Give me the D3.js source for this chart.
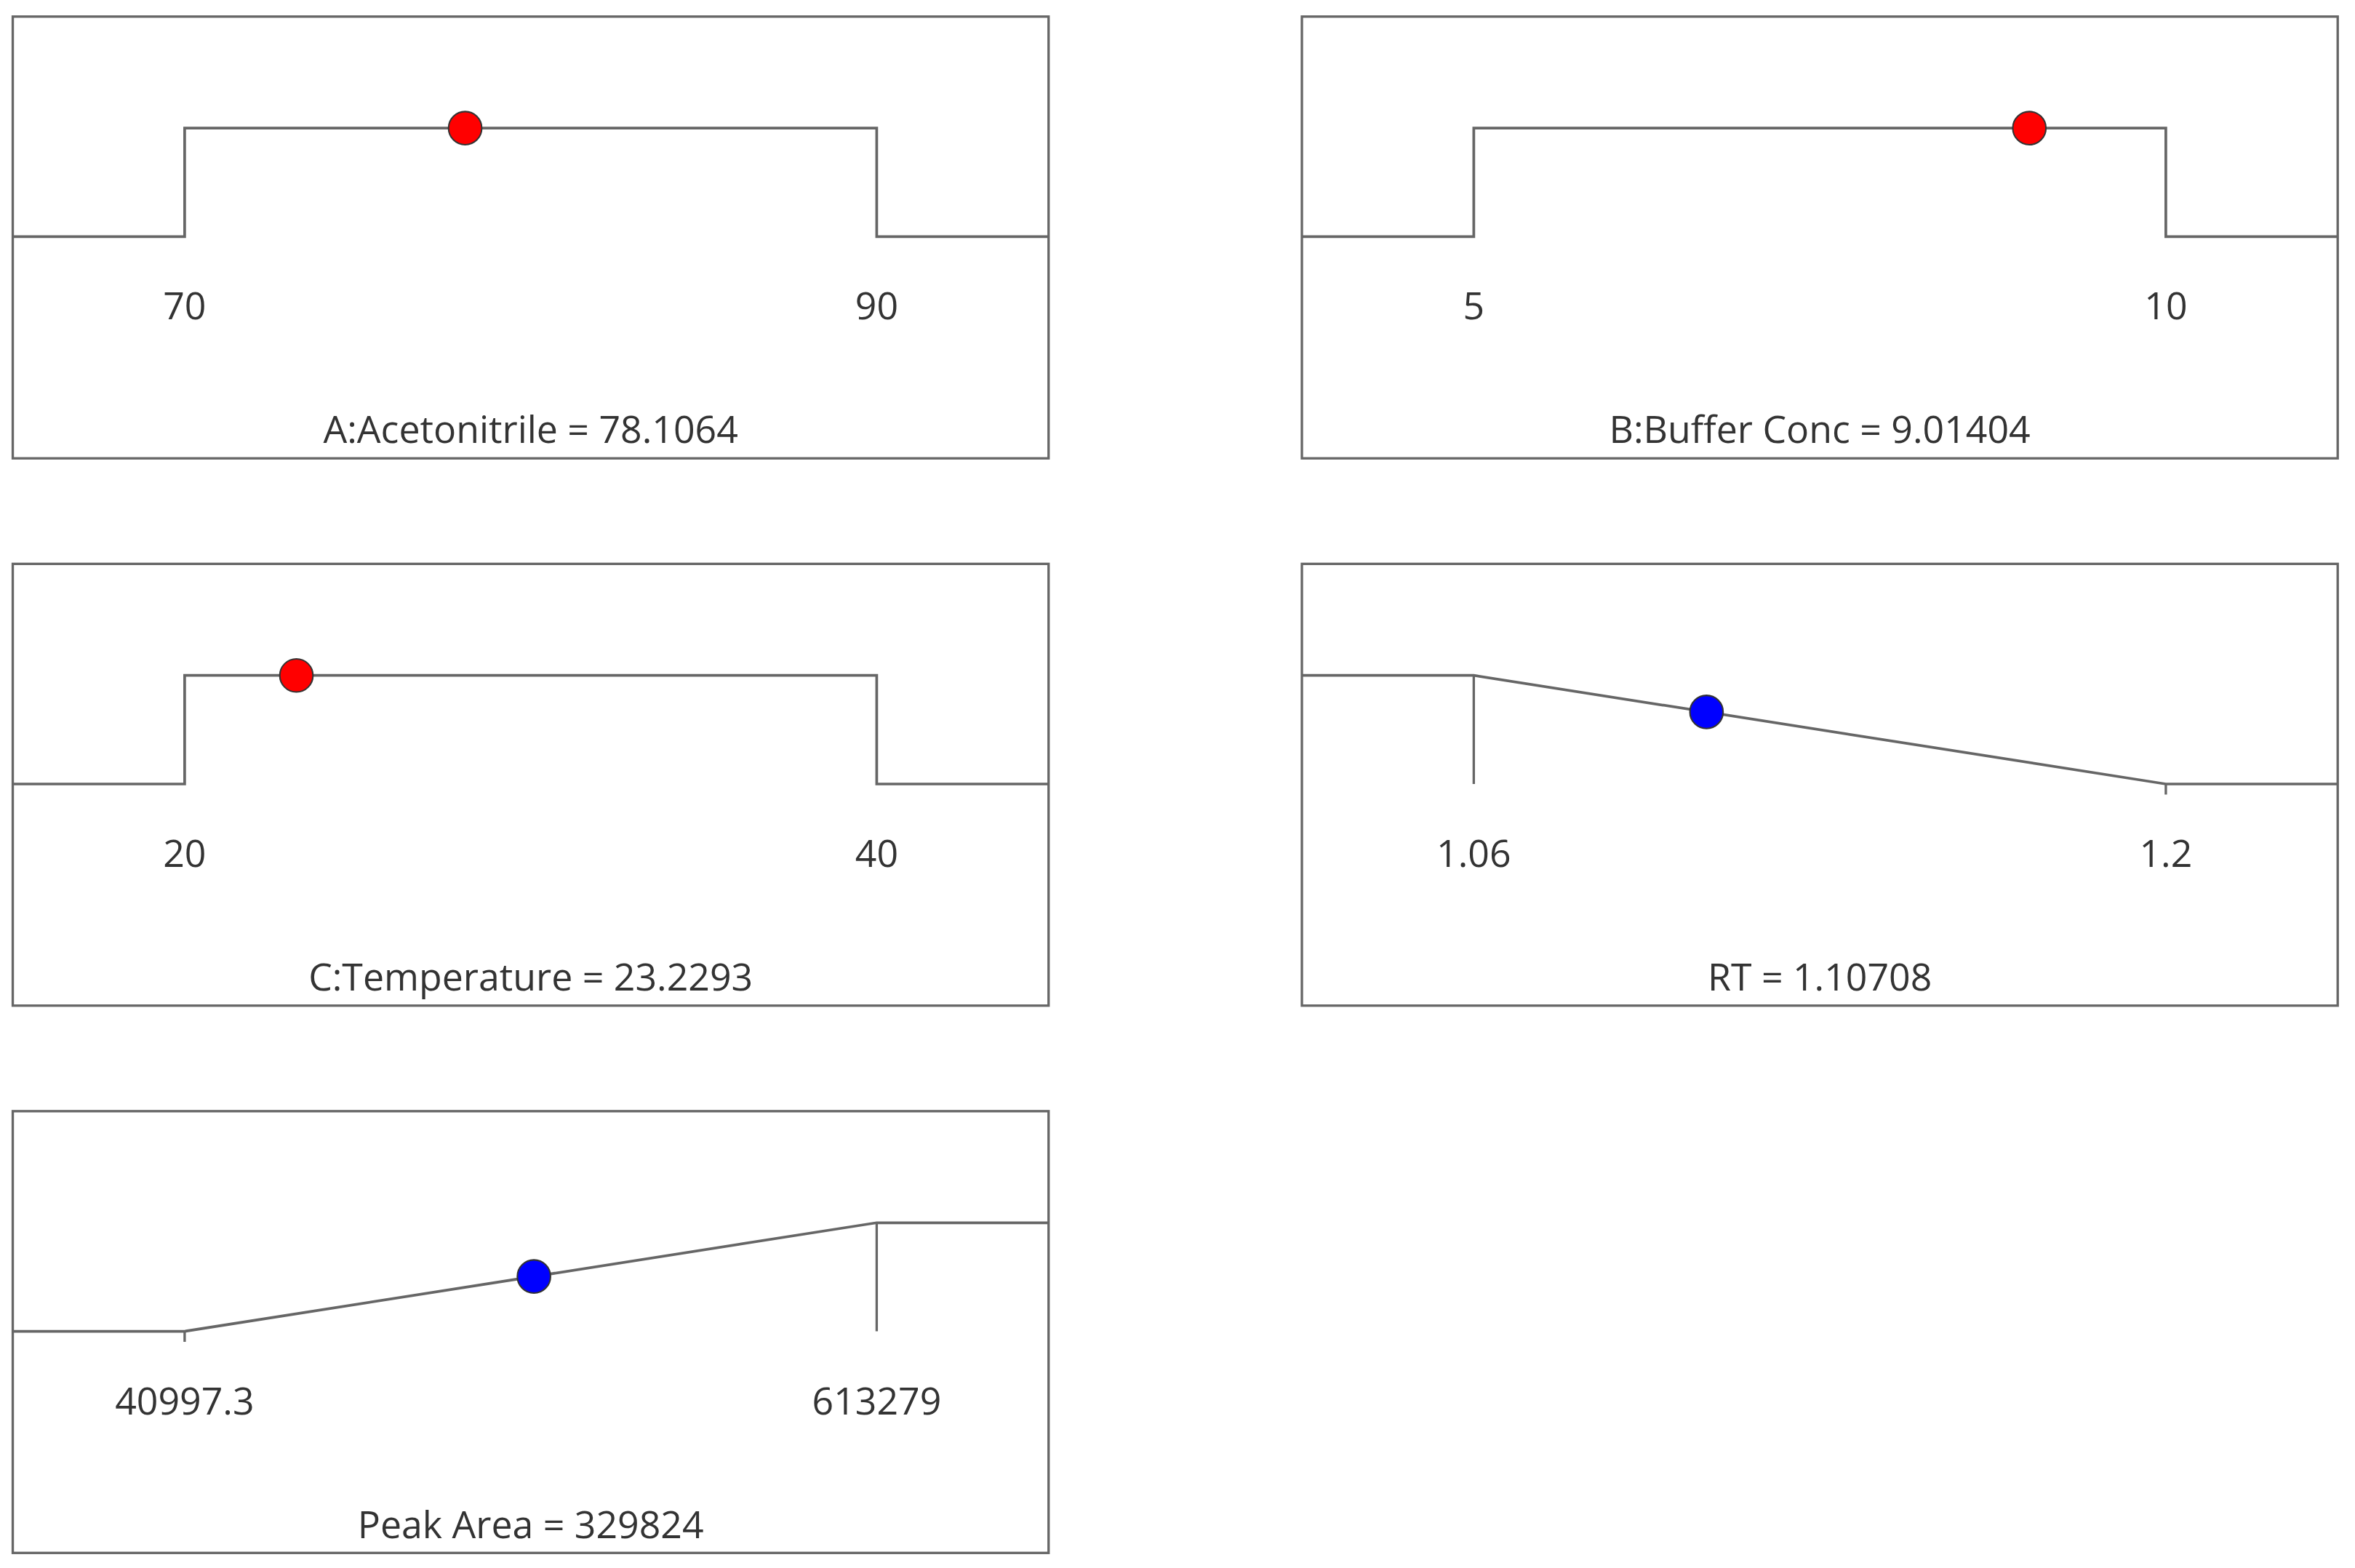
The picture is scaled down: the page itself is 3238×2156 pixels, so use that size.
<!DOCTYPE html>
<html><head><meta charset="utf-8">
<script src="https://cdn.jsdelivr.net/npm/d3@7"></script>
<style>body{margin:0;background:#fff}</style>
</head><body>
<script>
// panels: factor ranges and the optimum point
var names = ["A:Acetonitrile", "B:Buffer Conc", "C:Temperature", "RT", "Peak Area"];
var lows = [70, 5, 20, 1.06, 40997.3];
var highs = [90, 10, 40, 1.2, 613279];
var lowLabels = ["70", "5", "20", "1.06", "40997.3"];
var highLabels = ["90", "10", "40", "1.2", "613279"];
var values = [78.1064, 9.01404, 23.2293, 1.10708, 329824];
var labels = ["78.1064", "9.01404", "23.2293", "1.10708", "329824"];
var goals = ["range", "range", "range", "min", "max"];
var colors = ["#ff0000", "#ff0000", "#ff0000", "#0000ff", "#0000ff"];

var W = 1559, H = 1040;
var svg = d3.select("body").append("svg")
  .attr("width", 3238).attr("height", 2156)
  .attr("viewBox", "0 0 " + W + " " + H);

var pw = 687, ph = 293;
var lefts = [7, 862], tops = [11, 374, 737];
var font = "'Open Sans', 'Noto Sans', sans-serif";

names.forEach(function(name, i){
  var g = svg.append("g")
    .attr("transform", "translate(" + lefts[i % 2] + "," + tops[Math.floor(i / 2)] + ")");
  g.append("rect").attr("width", pw).attr("height", ph)
    .attr("fill", "none").attr("stroke", "#666").attr("stroke-width", 1.6);

  var x = d3.scaleLinear().domain([lows[i], highs[i]]).range([114, 573]);
  var y = d3.scaleLinear().domain([0, 1]).range([146, 74]);
  var x0 = x(lows[i]), x1 = x(highs[i]);
  var pts, d;
  if (goals[i] == "range") {
    pts = [[0, y(0)], [x0, y(0)], [x0, y(1)], [x1, y(1)], [x1, y(0)], [pw, y(0)]];
    d = 1;
  } else if (goals[i] == "min") {
    pts = [[0, y(1)], [x0, y(1)], [x1, y(0)], [pw, y(0)]];
    d = (highs[i] - values[i]) / (highs[i] - lows[i]);
    g.append("line").attr("x1", x0).attr("x2", x0).attr("y1", y(1)).attr("y2", y(0))
      .attr("stroke", "#666").attr("stroke-width", 1.6);
    g.append("line").attr("x1", x1).attr("x2", x1).attr("y1", y(0)).attr("y2", y(0) + 7)
      .attr("stroke", "#666").attr("stroke-width", 1.6);
  } else {
    pts = [[0, y(0)], [x0, y(0)], [x1, y(1)], [pw, y(1)]];
    d = (values[i] - lows[i]) / (highs[i] - lows[i]);
    g.append("line").attr("x1", x1).attr("x2", x1).attr("y1", y(1)).attr("y2", y(0))
      .attr("stroke", "#666").attr("stroke-width", 1.6);
    g.append("line").attr("x1", x0).attr("x2", x0).attr("y1", y(0)).attr("y2", y(0) + 7)
      .attr("stroke", "#666").attr("stroke-width", 1.6);
  }
  g.append("path").attr("d", d3.line()(pts))
    .attr("fill", "none").attr("stroke", "#666").attr("stroke-width", 1.8);

  g.append("circle").attr("cx", x(values[i])).attr("cy", y(d)).attr("r", 11)
    .attr("fill", colors[i]).attr("stroke", "#333").attr("stroke-width", 1);

  g.selectAll("text.tick").data([[x0, lowLabels[i]], [x1, highLabels[i]]]).enter()
    .append("text").attr("class", "tick")
    .attr("x", function(t){ return t[0]; }).attr("y", 201)
    .attr("text-anchor", "middle").attr("font-family", font).attr("font-size", 25)
    .attr("fill", "#333").text(function(t){ return t[1]; });

  g.append("text").attr("x", pw / 2).attr("y", 283)
    .attr("text-anchor", "middle").attr("font-family", font).attr("font-size", 25)
    .attr("fill", "#333").text(name + " = " + labels[i]);
});
</script>
</body></html>
